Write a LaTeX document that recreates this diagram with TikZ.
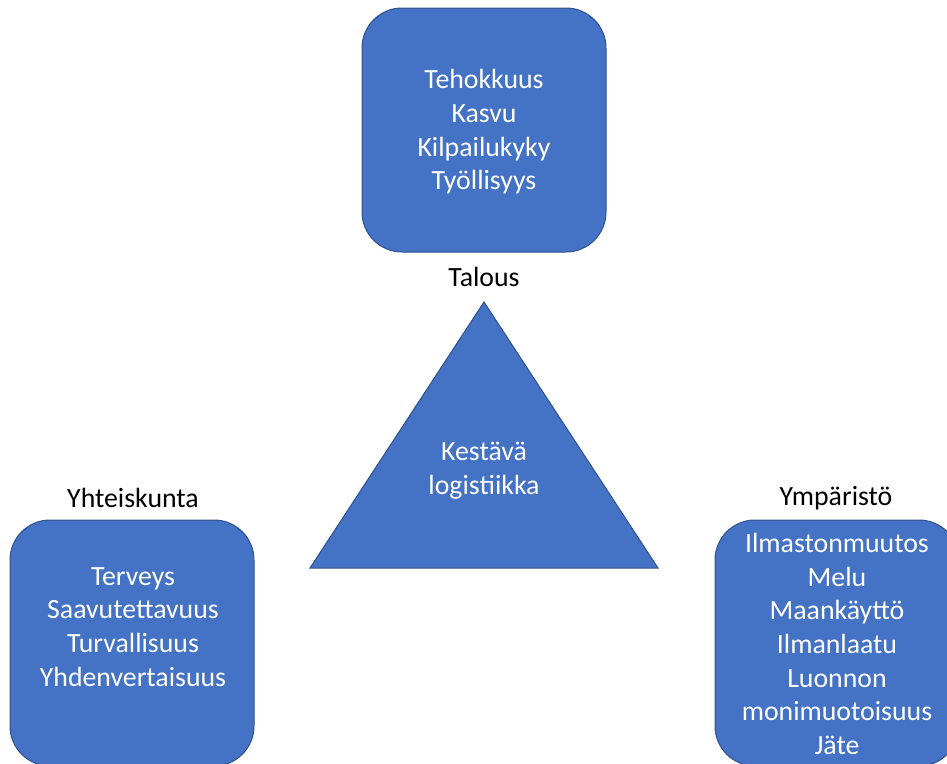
\documentclass[tikz,border=0pt]{standalone}
\usepackage{fontspec}
\setmainfont{Carlito}
\definecolor{boxfill}{HTML}{4472C4}
\definecolor{boxline}{HTML}{2F528F}
\begin{document}
\begin{tikzpicture}[x=1pt,y=-1pt,
  panel/.style={draw=boxline,line width=1pt,fill=boxfill,rounded corners=40pt},
  intext/.style={text=white,align=center,font=\fontsize{27.8}{33.7}\selectfont,inner sep=0pt},
  outtext/.style={text=black,align=center,font=\fontsize{27.8}{33.7}\selectfont,inner sep=0pt}]
\useasboundingbox (0,0) rectangle (947,763);
\begin{scope}
\clip (0,0) rectangle (947,763);
% top box
\draw[panel] (362,8) rectangle (606,252);
\node[intext] (econ) at (484,132) {Tehokkuus\\Kasvu\\Kilpailukyky\\Työllisyys};
\node[outtext] (talous) at (484,277) {Talous};
% triangle
\coordinate (apex) at (484,302);
\coordinate (bl) at (310,568);
\coordinate (br) at (658,568);
\draw[draw=boxline,line width=1pt,fill=boxfill,line join=miter] (apex) -- (br) -- (bl) -- cycle;
\node[intext] (core) at (484,471) {Kestävä\\logistiikka};
% left box
\draw[panel] (10,520) rectangle (254,766);
\node[intext] (soc) at (133,627) {Terveys\\Saavutettavuus\\Turvallisuus\\Yhdenvertaisuus};
\node[outtext] (yht) at (133,498) {Yhteiskunta};
% right box
\draw[panel] (715,520) rectangle (959,766);
\node[intext] (env) at (837,644) {Ilmastonmuutos\\Melu\\Maankäyttö\\Ilmanlaatu\\Luonnon\\monimuotoisuus\\Jäte};
\node[outtext] (ymp) at (836,498) {Ympäristö};
\end{scope}
\end{tikzpicture}
\end{document}
